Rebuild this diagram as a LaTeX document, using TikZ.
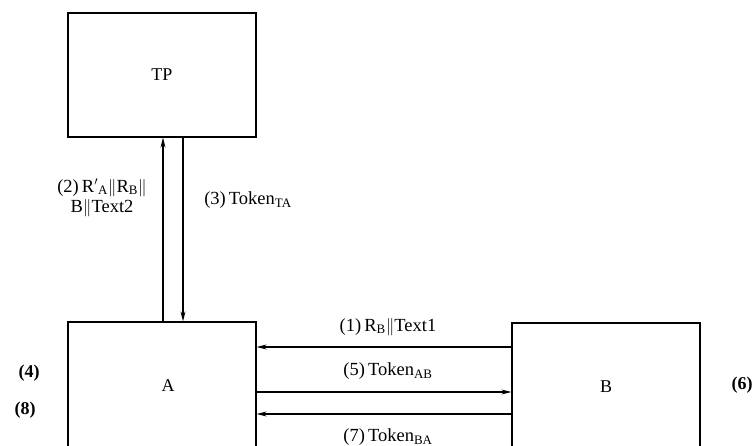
\documentclass[tikz,border=0pt]{standalone}
\usepackage{fontspec}
\setmainfont{Liberation Serif}
\usetikzlibrary{arrows.meta}
\begin{document}
\begin{tikzpicture}[x=1pt,y=-1pt,
  box/.style={draw,line width=1.3pt,minimum width=188pt,minimum height=128pt,inner sep=0pt,font=\fontsize{18}{20}\selectfont},
  lbl/.style={font=\fontsize{18.5}{20.5}\selectfont,inner sep=1pt},
  num/.style={font=\bfseries\fontsize{18}{20}\selectfont,inner sep=1pt},
  msg/.style={line width=1.1pt,-{Stealth[length=10pt,width=5pt]}}]
\useasboundingbox (0,0) rectangle (755,446);
\clip (0,0) rectangle (755,446);
\node[box,minimum height=124pt] (TP) at (162,75) {TP};
\node[box] (A) at (162,386) {};
\node[box] (B) at (606,387) {};
\node[font=\fontsize{18}{20}\selectfont] (Al) at (168,386) {A};
\node[font=\fontsize{18}{20}\selectfont] (Bl) at (606,387) {B};
% vertical arrows
\draw[msg] ([xshift=1pt]A.north) -- ([xshift=1pt]A.north |- TP.south);
\draw[msg] ([xshift=21pt]TP.south) -- ([xshift=21pt]TP.south |- A.north);
% horizontal arrows
\draw[msg] ([yshift=40pt]B.west) -- ([yshift=40pt]B.west -| A.east);
\draw[msg] ([yshift=-6pt]A.east) -- ([yshift=-6pt]A.east -| B.west);
\draw[msg] ([yshift=-27pt]B.west) -- ([yshift=-27pt]B.west -| A.east);
% labels
\node[lbl,align=center] (l2) at (102,198) {(2)\,R$'$\textsubscript{A}$\|$R\textsubscript{B}$\|$\\B$\|$Text2};
\node[lbl] (l3) at (248,200) {(3)\,Token\textsubscript{TA}};
\node[lbl] (l1) at (388,327) {(1)\,R\textsubscript{B}$\|$Text1};
\node[lbl] (l5) at (388,371) {(5)\,Token\textsubscript{AB}};
\node[lbl] (l7) at (388,437) {(7)\,Token\textsubscript{BA}};
\node[num] (n4) at (29,373) {(4)};
\node[num] (n8) at (25,410) {(8)};
\node[num] (n6) at (742,385) {(6)};
\end{tikzpicture}
\end{document}
